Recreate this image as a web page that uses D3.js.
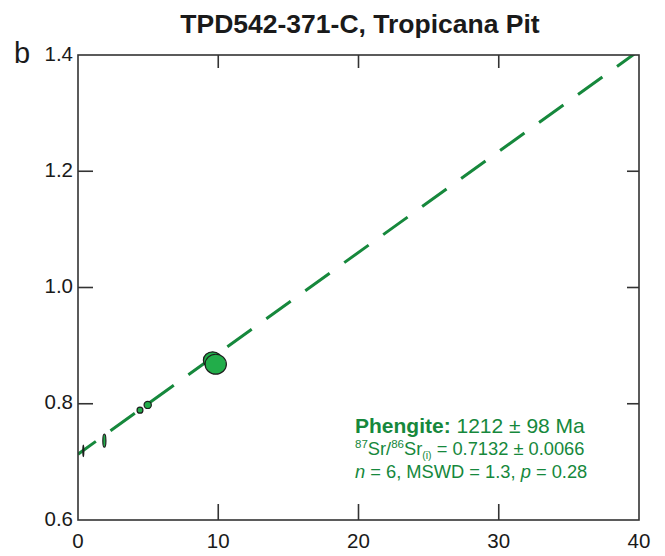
<!DOCTYPE html>
<html><head><meta charset="utf-8">
<script src="https://cdn.jsdelivr.net/npm/d3@7"></script>
<style>body{margin:0;background:#fff}svg{display:block}</style>
</head><body>
<svg id="c" width="665" height="556"></svg>
<script>
// Data
const rbsr   = [0.38, 1.88, 4.42, 4.97, 9.60, 9.82];     // 87Rb/86Sr
const srsr   = [0.719, 0.7364, 0.789, 0.798, 0.875, 0.868]; // 87Sr/86Sr
const rbErr  = [0.035, 0.11, 0.21, 0.26, 0.66, 0.76];     // ellipse half-width (x units)
const srErr  = [0.010, 0.0112, 0.0052, 0.0062, 0.0143, 0.0172]; // ellipse half-height (y units)
const xTicks = [0, 10, 20, 30, 40];
const yTicks = [0.6, 0.8, 1.0, 1.2, 1.4];
const intercept = 0.7132;
const ageMa = 1212;
const lambda = 1.42e-11;
const slope = Math.exp(lambda * ageMa * 1e6) - 1;

const svg = d3.select("#c");
const L = 78, R = 639, T = 55, B = 520;
const x = d3.scaleLinear().domain([0, 40]).range([L, R]);
const y = d3.scaleLinear().domain([0.6, 1.4]).range([B, T]);
const font = "Liberation Sans, Arial, Helvetica, sans-serif";
const green = "#16883c";

// Title
svg.append("text").attr("x", 360).attr("y", 32.5).attr("text-anchor", "middle")
  .attr("font-family", font).attr("font-weight", "bold").attr("font-size", 26.5)
  .attr("fill", "#1a1a1a").text("TPD542-371-C, Tropicana Pit");
svg.append("text").attr("x", 14).attr("y", 63)
  .attr("font-family", font).attr("font-size", 29).attr("fill", "#1a1a1a").text("b");

// clip
svg.append("clipPath").attr("id", "clip").append("rect")
  .attr("x", L).attr("y", T).attr("width", R - L).attr("height", B - T);

// isochron line
const x1 = 0, x2 = 40;
svg.append("line").attr("clip-path", "url(#clip)")
  .attr("x1", x(x1)).attr("y1", y(intercept + slope * x1))
  .attr("x2", x(x2)).attr("y2", y(intercept + slope * x2))
  .attr("stroke", green).attr("stroke-width", 3)
  .attr("stroke-dasharray", "30,18").attr("stroke-dashoffset", 8);

// ellipses
svg.append("g").selectAll("ellipse").data(rbsr).join("ellipse")
  .attr("cx", (d, i) => x(d)).attr("cy", (d, i) => y(srsr[i]))
  .attr("rx", (d, i) => x(rbErr[i]) - x(0)).attr("ry", (d, i) => y(0.6) - y(0.6 + srErr[i]))
  .attr("fill", "#22ad4a").attr("stroke", "#1d1d1d").attr("stroke-width", 1.2);

// Frame
const ax = svg.append("g").attr("stroke", "#333").attr("stroke-width", 1.6).attr("fill", "none");
ax.append("rect").attr("x", L).attr("y", T).attr("width", R - L).attr("height", B - T);
// ticks
xTicks.slice(1, -1).forEach(t => {
  ax.append("line").attr("x1", x(t)).attr("x2", x(t)).attr("y1", B).attr("y2", B - 16);
  ax.append("line").attr("x1", x(t)).attr("x2", x(t)).attr("y1", T).attr("y2", T + 13);
});
yTicks.slice(1, -1).forEach(t => {
  ax.append("line").attr("x1", L).attr("x2", L + 15).attr("y1", y(t)).attr("y2", y(t));
  ax.append("line").attr("x1", R).attr("x2", R - 12).attr("y1", y(t)).attr("y2", y(t));
});

// tick labels
svg.append("g").selectAll("text").data(xTicks).join("text")
  .attr("x", d => x(d)).attr("y", 548).attr("text-anchor", "middle")
  .attr("font-family", font).attr("font-size", 20.5).attr("fill", "#1a1a1a").text(d => d);
svg.append("g").selectAll("text").data(yTicks).join("text")
  .attr("x", 73).attr("y", d => y(d) + 5.5).attr("text-anchor", "end")
  .attr("font-family", font).attr("font-size", 20.5).attr("fill", "#1a1a1a").text(d => d.toFixed(1));

// annotation
const ann = svg.append("g").attr("font-family", font).attr("fill", green);
const t1 = ann.append("text").attr("x", 355).attr("y", 433).attr("font-size", 21);
t1.append("tspan").attr("font-weight", "bold").text("Phengite:");
t1.append("tspan").text(" " + ageMa + " ± 98 Ma");
const t2 = ann.append("text").attr("x", 355).attr("y", 455).attr("font-size", 18.3);
t2.append("tspan").attr("font-size", 11.5).attr("dy", -7).text("87");
t2.append("tspan").attr("dy", 7).text("Sr/");
t2.append("tspan").attr("font-size", 11.5).attr("dy", -7).text("86");
t2.append("tspan").attr("dy", 7).text("Sr");
t2.append("tspan").attr("font-size", 10.5).attr("dy", 4).text("(i)");
t2.append("tspan").attr("dy", -4).text(" = " + intercept.toFixed(4) + " ± 0.0066");
const t3 = ann.append("text").attr("x", 355).attr("y", 478).attr("font-size", 18.3);
t3.append("tspan").attr("font-style", "italic").text("n");
t3.append("tspan").text(" = 6, MSWD = 1.3, ");
t3.append("tspan").attr("font-style", "italic").text("p");
t3.append("tspan").text(" = 0.28");
</script>
</body></html>
